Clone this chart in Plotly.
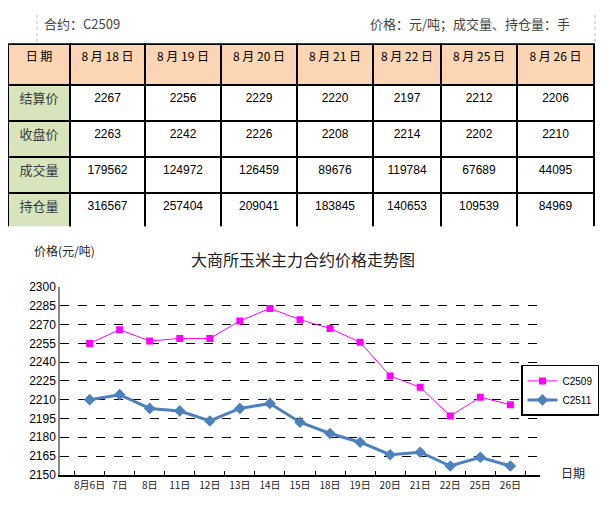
import plotly.graph_objects as go

# 表格数据
dates_table = ['8 月 18 日', '8 月 19 日', '8 月 20 日', '8 月 21 日', '8 月 22 日', '8 月 25 日', '8 月 26 日']
row_names = ['结算价', '收盘价', '成交量', '持仓量']
settle = [2267, 2256, 2229, 2220, 2197, 2212, 2206]
close = [2263, 2242, 2226, 2208, 2214, 2202, 2210]
volume = [179562, 124972, 126459, 89676, 119784, 67689, 44095]
open_int = [316567, 257404, 209041, 183845, 140653, 109539, 84969]

# 走势图数据
x_labels = ['8月6日', '7日', '8日', '11日', '12日', '13日', '14日', '15日',
            '18日', '19日', '20日', '21日', '22日', '25日', '26日']
c2509 = [2255, 2266, 2257, 2259, 2259, 2273, 2283, 2274, 2267, 2256, 2229, 2220, 2197, 2212, 2206]
c2511 = [2210, 2214, 2203, 2201, 2193, 2203, 2207, 2192, 2183, 2176, 2166, 2168, 2157, 2164, 2157]

# 页面有 8px 的边距, 图的尺寸要减掉
OFF = 8
W, H = 607 - 2 * OFF, 516 - 2 * OFF


def px_x(v):
    return min(max((v - OFF) / W, 0), 1)


def px_y(v):
    return min(max(1 - (v - OFF) / H, 0), 1)


cjk = 'Noto Sans CJK SC'
peach = '#FCD5B4'
green = '#D8E4BC'

# 表格
header_vals = ['日 期'] + [d.replace(' ', '\u00a0') for d in dates_table]
cols = [row_names] + [[settle[i], close[i], volume[i], open_int[i]] for i in range(len(dates_table))]
fill = [[green] * 4] + [['white'] * 4] * len(dates_table)
font_col = [['#3a3a3a'] * 4] + [['black'] * 4] * len(dates_table)

table = go.Table(
    domain=dict(x=[px_x(8), px_x(594)], y=[px_y(226), px_y(38)]),
    columnwidth=[62, 75, 76, 76, 76, 68, 76, 77],
    header=dict(
        values=header_vals,
        fill_color=peach,
        line=dict(color='black', width=1.5),
        align='center',
        height=41,
        font=dict(family=cjk, size=12, color='black'),
    ),
    cells=dict(
        values=cols,
        fill_color=fill,
        line=dict(color='black', width=1.5),
        align='center',
        height=36,
        font=dict(family=[cjk] + ['Liberation Sans'] * 7, size=[13] + [12] * 7, color=font_col),
    ),
)

fig = go.Figure(table)

fig.add_trace(go.Scatter(
    x=x_labels, y=c2509, name='C2509', mode='lines+markers',
    line=dict(color='#FF00FF', width=1),
    marker=dict(symbol='square', size=7, color='#FF00FF'),
))
fig.add_trace(go.Scatter(
    x=x_labels, y=c2511, name='C2511', mode='lines+markers',
    line=dict(color='#4F81BD', width=3),
    marker=dict(symbol='diamond', size=9, color='#4F81BD'),
))

fig.update_layout(
    width=W, height=H,
    margin=dict(l=0, r=0, t=0, b=0),
    paper_bgcolor='white', plot_bgcolor='white',
    font=dict(family='Liberation Sans', color='black'),
    xaxis=dict(
        domain=[px_x(60), px_x(540)],
        type='category',
        showline=True, linecolor='black', linewidth=1.5,
        ticks='inside', ticklen=4, tickcolor='black', tickson='boundaries',
        showgrid=False, tickangle=0,
        tickfont=dict(family=cjk, size=10, color='#222'),
        anchor='y',
    ),
    yaxis=dict(
        domain=[px_y(481), px_y(288)],
        range=[2150, 2300], dtick=15, tick0=2150,
        showline=True, linecolor='#888', linewidth=1.5,
        showgrid=True, gridcolor='black', griddash='dash', gridwidth=1,
        zeroline=False,
        tickfont=dict(size=12, color='black'),
        ticks='',
        anchor='x',
    ),
    showlegend=True,
    legend=dict(
        x=1, y=px_y(368), xanchor='right', yanchor='top',
        bordercolor='black', borderwidth=1.5, bgcolor='white',
        font=dict(size=10, family='Liberation Sans'),
        itemwidth=30, tracegroupgap=0,
    ),
)

# 顶部说明文字
fig.add_annotation(text='合约：C2509', x=px_x(42), y=px_y(17), xref='paper', yref='paper',
                   xanchor='left', yanchor='middle', showarrow=False,
                   font=dict(family=cjk, size=13, color='#444'))
fig.add_annotation(text='价格：元/吨；成交量、持仓量：手', x=px_x(572), y=px_y(17), xref='paper', yref='paper',
                   xanchor='right', yanchor='middle', showarrow=False,
                   font=dict(family=cjk, size=13, color='#444'))
for xv in [37, 595]:
    fig.add_shape(type='line', xref='paper', yref='paper', x0=px_x(xv), x1=px_x(xv), y0=px_y(0), y1=px_y(37),
                  line=dict(color='#bbbbbb', width=1, dash='dot'))

# 图表标题及坐标轴标题
fig.add_annotation(text='大商所玉米主力合约价格走势图', x=px_x(303), y=px_y(259), xref='paper', yref='paper',
                   xanchor='center', yanchor='middle', showarrow=False,
                   font=dict(family=cjk, size=16, color='#222'))
fig.add_annotation(text='价格(元/吨)', x=px_x(32), y=px_y(250), xref='paper', yref='paper',
                   xanchor='left', yanchor='middle', showarrow=False,
                   font=dict(family=cjk, size=12, color='#222'))
fig.add_annotation(text='日期', x=px_x(559), y=px_y(479), xref='paper', yref='paper',
                   xanchor='left', yanchor='middle', showarrow=False,
                   font=dict(family=cjk, size=12, color='#222'))

fig.write_html('out.html')
